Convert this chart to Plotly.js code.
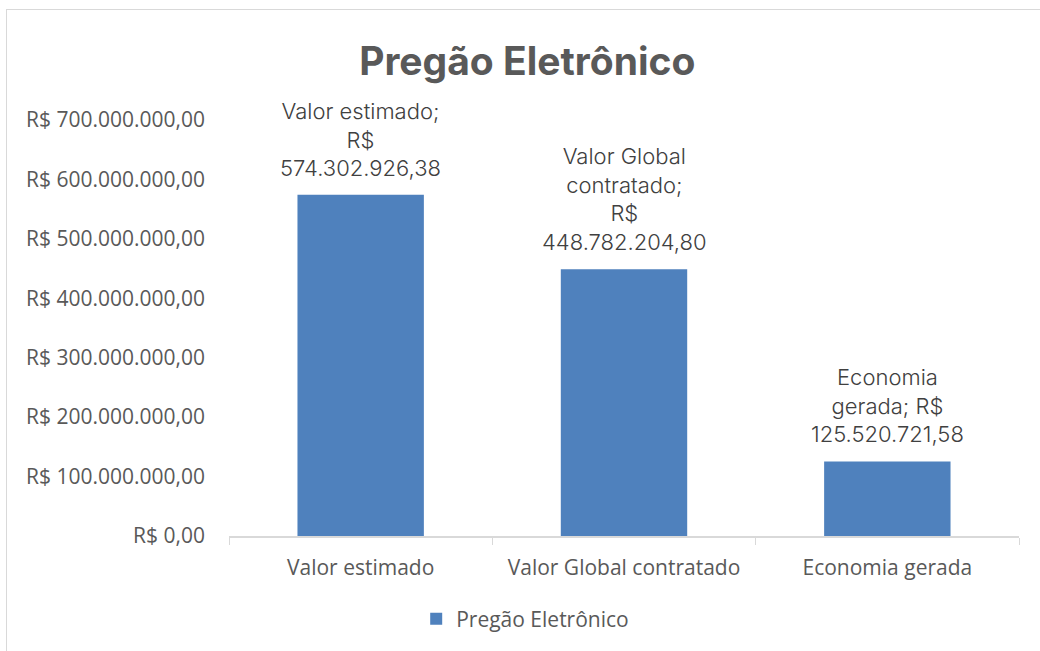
<!DOCTYPE html>
<html>
<head>
<meta charset="utf-8">
<script src="https://cdn.plot.ly/plotly-3.0.1.min.js"></script>
<style>
  body { margin: 0; background: #fff; }
  #wrap { position: relative; width: 1040px; height: 651px; overflow: hidden; }
  #frame { position: absolute; left: 6px; top: 9px; width: 1100px; height: 700px;
           border: 1px solid #d9d9d9; box-sizing: border-box; pointer-events: none; }
  #myPlot { width: 1040px; height: 651px; }
</style>
</head>
<body>
<div id="wrap">
  <div id="myPlot"></div>
  <div id="frame"></div>
</div>
<script>
var categories = ["Valor estimado", "Valor Global contratado", "Economia gerada"]
var values = [574302926.38, 448782204.80, 125520721.58]
var labelLines = [
    ["Valor estimado;", "R$", "574.302.926,38"],
    ["Valor Global", "contratado;", "R$", "448.782.204,80"],
    ["Economia", "gerada; R$", "125.520.721,58"]
]
var seriesName = "Pregão Eletrônico"

var tickFont = { family: "'Open Sans', 'Noto Sans', sans-serif", size: 21, color: "#595959" }

var data = [{
    type: "bar",
    x: categories,
    y: values,
    name: seriesName,
    marker: { color: "#4f81bd" },
    width: 0.48,
    hoverinfo: "none",
    showlegend: true
}]

// data labels as annotations so the gap above the bar can be set
var annotations = []
for (let i = 0; i < categories.length; i++) {
    annotations.push({
        x: categories[i],
        y: values[i],
        xref: "x", yref: "y",
        text: labelLines[i].join("<br>"),
        showarrow: false,
        yanchor: "bottom",
        yshift: 12,
        align: "center",
        font: { family: "Inter, Roboto, sans-serif", size: 22, color: "#404040", weight: 300 }
    })
}

var layout = {
    width: 1040,
    height: 651,
    margin: { l: 229, r: 21, t: 120, b: 115 },
    paper_bgcolor: "#ffffff",
    plot_bgcolor: "#ffffff",
    separators: ",.",
    title: {
        text: "<b>Pregão Eletrônico</b>",
        font: { family: "Inter, Roboto, sans-serif", size: 39, color: "#595959" },
        xref: "container", x: 0.507, xanchor: "center",
        yref: "container", y: 0.905, yanchor: "middle"
    },
    xaxis: {
        type: "category",
        showline: true,
        linecolor: "#d9d9d9",
        linewidth: 1.5,
        ticks: "outside",
        tickson: "boundaries",
        ticklen: 7,
        tickcolor: "#d9d9d9",
        ticklabelstandoff: 12,
        tickfont: tickFont,
        showgrid: false,
        zeroline: false
    },
    yaxis: {
        range: [0, 700000000],
        dtick: 100000000,
        tickprefix: "R$ ",
        tickformat: ",.2f",
        showgrid: false,
        zeroline: false,
        showline: false,
        ticklabelstandoff: 23,
        tickfont: tickFont
    },
    showlegend: true,
    legend: {
        orientation: "h",
        xref: "container", x: 0.505, xanchor: "center",
        yref: "container", y: 0.049, yanchor: "middle",
        font: tickFont
    },
    annotations: annotations
}

Plotly.newPlot("myPlot", data, layout, { staticPlot: true })
</script>
</body>
</html>
